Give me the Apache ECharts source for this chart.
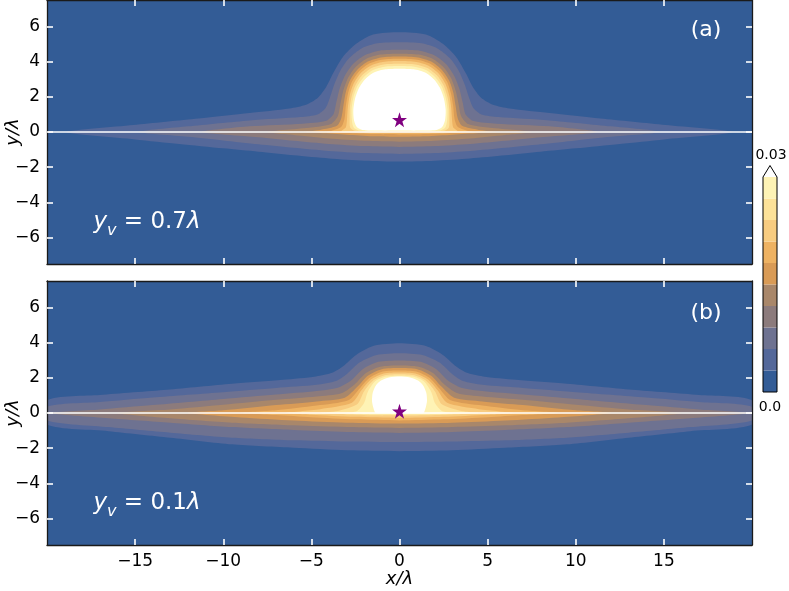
<!DOCTYPE html>
<html>
<head>
<meta charset="utf-8">
<script src="https://cdn.jsdelivr.net/npm/echarts@6/dist/echarts.min.js"></script>
<style>
  html, body { margin: 0; padding: 0; background: #fff; }
  #main { width: 789px; height: 591px; }
</style>
</head>
<body>
<div id="main"></div>
<script>
// contour levels of the colour bar (0 .. 0.03, extend max = white)
const levels = [0, 0.003, 0.006, 0.009, 0.012, 0.015, 0.018, 0.021, 0.024, 0.027, 0.03]
const levelColors = ['#335c96', '#54689a', '#6e7291', '#8c7b7c', '#a9876a', '#d99b56', '#eeb262', '#f8cc80', '#fde299', '#fef3b5']
const overColor = '#ffffff'

const xTicks = [-15, -10, -5, 0, 5, 10, 15]
const yTicks = [-6, -4, -2, 0, 2, 4, 6]
const xRange = [-20, 20]
const yRange = [-7.5, 7.5]
const interfaceY = 0

// source positions (stars)
const sourceA = [[0, 0.7]]
const sourceB = [[0, 0.1]]

// contour outlines, right half (x >= 0), from top over the tip to the bottom
// panel (a), y_v = 0.7
const a1 = [[0, 5.67], [1.5, 5.54], [2.46, 5.01], [3.22, 4.25], [3.78, 3.31], [4.16, 2.56], [4.63, 1.95], [5.3, 1.55], [6.24, 1.34], [8.5, 1.08], [11.4, 0.77], [15.1, 0.4], [18.9, 0], [15, -0.42], [12.5, -0.68], [10, -0.93], [8, -1.12], [6, -1.32], [4, -1.5], [2, -1.63], [0, -1.68]]
const a2 = [[0, 5.1], [1.25, 5.04], [2.15, 4.75], [2.85, 4.2], [3.35, 3.5], [3.7, 2.7], [3.95, 1.95], [4.2, 1.35], [4.65, 1.0], [5.6, 0.85], [8.5, 0.66], [12, 0.32], [14.8, 0], [12, -0.27], [10, -0.48], [8, -0.7], [6, -0.9], [4, -1.08], [2, -1.2], [0, -1.25]]
const a3 = [[0, 4.67], [1.15, 4.62], [2.0, 4.35], [2.65, 3.85], [3.1, 3.2], [3.4, 2.45], [3.58, 1.7], [3.75, 1.0], [4.2, 0.62], [5.5, 0.47], [8.5, 0.32], [11.2, 0], [8, -0.3], [6, -0.5], [4, -0.68], [2, -0.8], [0, -0.85]]
const a4 = [[0, 4.45], [1.1, 4.4], [1.9, 4.15], [2.5, 3.68], [2.93, 3.05], [3.2, 2.3], [3.35, 1.6], [3.5, 0.9], [3.9, 0.45], [5, 0.25], [7.5, 0], [6, -0.17], [4, -0.37], [2, -0.5], [0, -0.55]]
const a5 = [[0, 4.29], [1.05, 4.24], [1.8, 4.0], [2.38, 3.55], [2.8, 2.95], [3.05, 2.25], [3.18, 1.5], [3.3, 0.8], [3.55, 0.35], [4.5, 0.12], [5.5, 0], [4.5, -0.05], [3, -0.15], [1.5, -0.24], [0, -0.27]]
const a6 = [[0, 4.16], [1.0, 4.11], [1.72, 3.89], [2.3, 3.44], [2.7, 2.85], [2.93, 2.15], [3.05, 1.45], [3.12, 0.75], [3.3, 0.3], [3.9, 0.06], [4.3, 0], [3, -0.06], [1.5, -0.12], [0, -0.14]]
const a7 = [[0, 4.03], [0.95, 3.98], [1.65, 3.77], [2.22, 3.33], [2.6, 2.75], [2.83, 2.05], [2.93, 1.4], [2.98, 0.7], [3.05, 0.25], [3.3, 0.04], [2.5, -0.01], [0, -0.02]]
const a8 = [[0, 3.88], [0.9, 3.84], [1.58, 3.64], [2.12, 3.22], [2.5, 2.65], [2.72, 2.0], [2.82, 1.35], [2.83, 0.7], [2.8, 0.25], [2.55, 0.07], [1.5, 0.03], [0, 0.03]]
const a9 = [[0, 3.75], [0.85, 3.71], [1.5, 3.52], [2.02, 3.12], [2.4, 2.58], [2.62, 1.95], [2.72, 1.3], [2.7, 0.65], [2.6, 0.25], [2.3, 0.09], [1.3, 0.06], [0, 0.06]]
const aW = [[0, 3.6], [0.8, 3.56], [1.45, 3.38], [1.95, 3.0], [2.3, 2.5], [2.52, 1.9], [2.62, 1.25], [2.58, 0.65], [2.42, 0.28], [2.1, 0.11], [1.2, 0.08], [0, 0.08]]

// panel (b), y_v = 0.1
const b1 = [[0, 3.96], [1.5, 3.81], [2.46, 3.3], [3.22, 2.64], [3.78, 2.3], [4.73, 2.08], [6.6, 1.89], [9.5, 1.66], [13.2, 1.32], [17, 1.02], [20, 0.72], [20, -0.66], [16.5, -1.03], [13, -1.4], [9.5, -1.78], [6, -1.98], [3, -2.12], [0, -2.17]]
const b2 = [[0, 3.4], [1.3, 3.3], [2.25, 2.88], [3.0, 2.2], [3.6, 1.82], [4.7, 1.6], [7, 1.42], [10, 1.18], [14, 0.88], [17, 0.62], [20, 0.36], [20, -0.42], [16.5, -0.8], [13, -1.12], [9.5, -1.4], [6, -1.55], [3, -1.62], [0, -1.65]]
const b3 = [[0, 2.99], [1.2, 2.91], [2.05, 2.52], [2.75, 1.85], [3.5, 1.44], [4.7, 1.25], [7, 1.05], [10, 0.8], [14, 0.45], [17, 0.2], [19.8, 0], [16.5, -0.3], [13, -0.55], [9.5, -0.8], [6, -0.97], [3, -1.08], [0, -1.13]]
const b4 = [[0, 2.7], [1.1, 2.63], [1.9, 2.27], [2.55, 1.62], [3.3, 1.12], [4.7, 0.94], [7, 0.75], [10, 0.47], [13, 0.2], [16, 0], [13, -0.3], [9.5, -0.55], [6, -0.7], [3, -0.8], [0, -0.85]]
const b5 = [[0, 2.55], [1.0, 2.49], [1.8, 2.12], [2.38, 1.5], [3.1, 0.87], [4.7, 0.66], [7, 0.45], [10, 0.15], [12, 0], [9, -0.25], [6, -0.42], [3, -0.55], [0, -0.6]]
const b6 = [[0, 2.42], [0.95, 2.36], [1.7, 2.0], [2.25, 1.4], [2.9, 0.72], [4.7, 0.42], [7, 0.15], [9, 0], [7, -0.12], [5, -0.24], [2.5, -0.36], [0, -0.42]]
const b7 = [[0, 2.3], [0.9, 2.24], [1.62, 1.9], [2.15, 1.3], [2.7, 0.58], [4.5, 0.22], [6.5, 0], [5, -0.1], [2.5, -0.22], [0, -0.28]]
const b8 = [[0, 2.2], [0.85, 2.14], [1.52, 1.82], [2.0, 1.25], [2.4, 0.5], [3.5, 0.12], [4.5, 0], [3, -0.08], [1.5, -0.13], [0, -0.15]]
const b9 = [[0, 2.12], [0.75, 2.07], [1.38, 1.8], [1.8, 1.2], [2.02, 0.55], [2.4, 0.12], [3, 0], [2, -0.05], [1, -0.07], [0, -0.08]]
const bW = [[0, 2.07], [0.6, 2.02], [1.05, 1.84], [1.35, 1.55], [1.52, 1.15], [1.56, 0.7], [1.5, 0.35], [1.42, 0.1], [1.35, 0], [0.7, -0.02], [0, -0.03]]

const contoursA = [a1, a2, a3, a4, a5, a6, a7, a8, a9, aW]
const contoursB = [b1, b2, b3, b4, b5, b6, b7, b8, b9, bW]
const fills = levelColors.slice(1).concat([overColor])

const FONT = 'DejaVu Sans'
const minus = v => (v < 0 ? '\u2212' + (-v) : String(v))

// closed outline from the right half and its mirror image
function fullOutline(half) {
  const left = half.slice(1, -1).reverse().map(p => [-p[0], p[1]])
  return half.concat(left)
}

function contourSeries(contours, axis) {
  return {
    type: 'custom',
    xAxisIndex: axis,
    yAxisIndex: axis,
    clip: true,
    silent: true,
    z: 2,
    data: contours.map((c, i) => [0, 0, i]),
    renderItem: function(params, api) {
      const pts = fullOutline(contours[params.dataIndex]).map(p => api.coord(p))
      return {
        type: 'polygon',
        shape: { points: pts, smooth: 0.25 },
        style: { fill: fills[params.dataIndex], stroke: null }
      }
    }
  }
}

function frameAxis(type, grid, pos, labels) {
  const isX = type === 'x'
  const range = isX ? xRange : yRange
  const ticks = isX ? xTicks : yTicks
  return {
    type: 'value',
    gridIndex: grid,
    position: pos,
    min: range[0],
    max: range[1],
    z: 5,
    splitLine: { show: false },
    axisLine: { show: true, onZero: false, lineStyle: { color: '#1a1a1a', width: 1.3 } },
    axisTick: { show: true, inside: true, length: 6, customValues: ticks, lineStyle: { color: '#fff', width: 1.6 } },
    axisLabel: {
      show: labels,
      customValues: ticks,
      formatter: minus,
      color: '#000',
      fontFamily: FONT,
      fontSize: 17,
      margin: isX ? 8 : 7
    }
  }
}

const chart = echarts.init(document.getElementById('main'))

const nameStyle = { fontFamily: FONT, fontSize: 18, fontStyle: 'italic', color: '#000' }
const xAxes = [
  frameAxis('x', 0, 'bottom', false),
  Object.assign(frameAxis('x', 1, 'bottom', true), {
    name: 'x/λ', nameLocation: 'middle', nameGap: 25, nameMoveOverlap: false, nameTextStyle: nameStyle
  }),
  frameAxis('x', 0, 'top', false),
  frameAxis('x', 1, 'top', false),
  { type: 'value', gridIndex: 2, min: 0, max: 1, show: false }
]
const yName = {
  name: 'y/λ', nameLocation: 'middle', nameGap: 25, nameRotate: 90, nameMoveOverlap: false, nameTextStyle: nameStyle
}
const yAxes = [
  Object.assign(frameAxis('y', 0, 'left', true), yName),
  Object.assign(frameAxis('y', 1, 'left', true), yName),
  frameAxis('y', 0, 'right', false),
  frameAxis('y', 1, 'right', false),
  { type: 'value', gridIndex: 2, min: levels[0], max: levels[levels.length - 1], show: false }
]

function starSeries(data, axis) {
  return {
    type: 'scatter',
    xAxisIndex: axis,
    yAxisIndex: axis,
    z: 4,
    silent: true,
    symbol: 'path://M50,0 L61.2,34.5 L97.6,34.5 L68.2,55.9 L79.4,90.5 L50,69.1 L20.6,90.5 L31.8,55.9 L2.4,34.5 L38.8,34.5 Z',
    symbolSize: 15,
    itemStyle: { color: '#800080', opacity: 1 },
    data: data
  }
}

function interfaceSeries(axis) {
  return {
    type: 'line',
    xAxisIndex: axis,
    yAxisIndex: axis,
    z: 3,
    silent: true,
    symbol: 'none',
    lineStyle: { color: '#fff', width: 1.6 },
    data: [[xRange[0], interfaceY], [xRange[1], interfaceY]]
  }
}

const mathRich = {
  i: { fill: '#fff', fontFamily: FONT, fontSize: 23, fontStyle: 'italic', lineHeight: 34 },
  s: { fill: '#fff', fontFamily: FONT, fontSize: 16, fontStyle: 'italic', lineHeight: 34, verticalAlign: 'bottom' },
  n: { fill: '#fff', fontFamily: FONT, fontSize: 23, lineHeight: 34 }
}

chart.setOption({
  backgroundColor: '#fff',
  animation: false,
  grid: [
    { left: 47, top: 0, width: 705, height: 264, outerBoundsMode: 'none', containLabel: false, show: true, backgroundColor: levelColors[0], borderWidth: 0 },
    { left: 47, top: 281, width: 705, height: 264, outerBoundsMode: 'none', containLabel: false, show: true, backgroundColor: levelColors[0], borderWidth: 0 },
    { left: 763, top: 177, width: 14, height: 215, outerBoundsMode: 'none', containLabel: false, show: false }
  ],
  xAxis: xAxes,
  yAxis: yAxes,
  graphic: [
    { type: 'text', x: 706, y: 30, z: 10, style: { text: '(a)', fill: '#fff', font: '22px "DejaVu Sans"', textAlign: 'center', textVerticalAlign: 'middle' } },
    { type: 'text', x: 706, y: 313, z: 10, style: { text: '(b)', fill: '#fff', font: '22px "DejaVu Sans"', textAlign: 'center', textVerticalAlign: 'middle' } },
    { type: 'text', x: 147, y: 222, z: 10, style: { text: '{i|y}{s|v}{n| = 0.7}{i|λ}', rich: mathRich, textAlign: 'center', textVerticalAlign: 'middle' } },
    { type: 'text', x: 147, y: 503, z: 10, style: { text: '{i|y}{s|v}{n| = 0.1}{i|λ}', rich: mathRich, textAlign: 'center', textVerticalAlign: 'middle' } },
    { type: 'text', x: 771, y: 155, z: 10, style: { text: '0.03', fill: '#000', font: '14px "DejaVu Sans"', textAlign: 'center', textVerticalAlign: 'middle' } },
    { type: 'text', x: 770, y: 407, z: 10, style: { text: '0.0', fill: '#000', font: '14px "DejaVu Sans"', textAlign: 'center', textVerticalAlign: 'middle' } }
  ],
  series: [
    contourSeries(contoursA, 0),
    contourSeries(contoursB, 1),
    interfaceSeries(0),
    interfaceSeries(1),
    starSeries(sourceA, 0),
    starSeries(sourceB, 1),
    // colour bar bands
    {
      type: 'custom',
      xAxisIndex: 4,
      yAxisIndex: 4,
      silent: true,
      data: levels.slice(0, -1).map((lo, i) => [0, lo, i]),
      renderItem: function(params, api) {
        const i = params.dataIndex
        const p0 = api.coord([0, levels[i]])
        const p1 = api.coord([1, levels[i + 1]])
        return {
          type: 'rect',
          shape: { x: p0[0], y: p1[1], width: p1[0] - p0[0], height: p0[1] - p1[1] },
          style: { fill: levelColors[i], stroke: null }
        }
      }
    },
    // extend triangle and outline
    {
      type: 'custom',
      xAxisIndex: 4,
      yAxisIndex: 4,
      silent: true,
      z: 3,
      data: [[0, levels[levels.length - 1]]],
      renderItem: function(params, api) {
        const top = levels[levels.length - 1]
        const bl = api.coord([0, levels[0]])
        const tl = api.coord([0, top])
        const tr = api.coord([1, top])
        const br = api.coord([1, levels[0]])
        const tip = [(tl[0] + tr[0]) / 2, tl[1] - 11.5]
        return {
          type: 'group',
          children: [
            { type: 'polygon', shape: { points: [tl, tip, tr] }, style: { fill: overColor, stroke: null } },
            { type: 'polygon', shape: { points: [bl, tl, tip, tr, br] }, style: { fill: null, stroke: '#000', lineWidth: 1 } }
          ]
        }
      }
    }
  ]
})

window.addEventListener('resize', function() {
  chart.resize()
})
</script>
</body>
</html>
